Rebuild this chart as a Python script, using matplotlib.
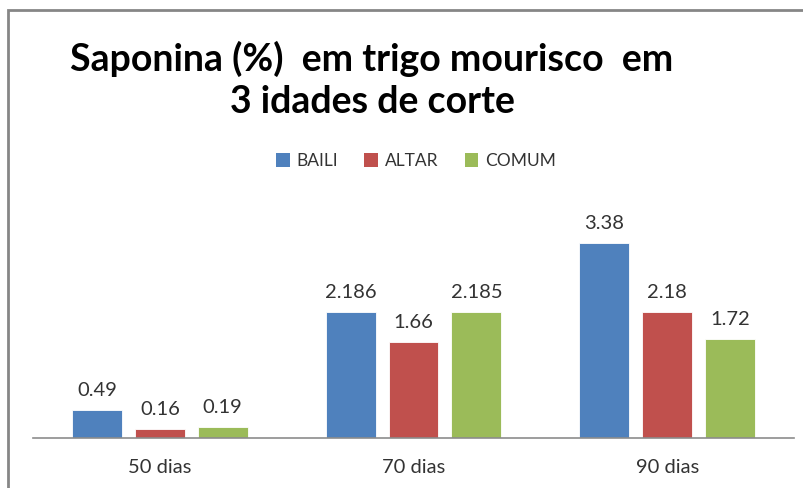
import numpy as np
import matplotlib.pyplot as plt
from matplotlib.patches import Rectangle, Patch

categories = ["50 dias", "70 dias", "90 dias"]
series = ["BAILI", "ALTAR", "COMUM"]
baili = [0.49, 2.186, 3.38]
altar = [0.16, 1.66, 2.18]
comum = [0.19, 2.185, 1.72]
labels = [["0.49", "2.186", "3.38"], ["0.16", "1.66", "2.18"], ["0.19", "2.185", "1.72"]]
colors = ["#4F81BD", "#C0504D", "#9BBB59"]

plt.rcParams["font.family"] = ["Lato", "DejaVu Sans"]

W, H = 804, 488
fig = plt.figure(figsize=(W / 100, H / 100), dpi=100)

# frame of the chart (bottom and right are cut off in the reference)
fig.patches.append(Rectangle((8 / W, -0.1), 1.2, 1.1 - 10 / H,
                             transform=fig.transFigure, fill=False,
                             edgecolor="#868686", linewidth=2.0))

ax = fig.add_axes([33 / W, (H - 438) / H, 761 / W, 231 / H])
x = np.arange(len(categories))
width = 0.197
offset = 0.248
for i, (vals, col) in enumerate(zip([baili, altar, comum], colors)):
    xs = x + (i - 1) * offset
    ax.bar(xs, vals, width=width, color=col, edgecolor="white", linewidth=0.6)
    for xx, v, lab in zip(xs, vals, labels[i]):
        ax.annotate(lab, (xx, v), xytext=(0, 8), textcoords="offset points",
                    ha="center", va="bottom", fontsize=14.5, color="#333333")

ax.set_xlim(-0.5, 2.5)
ax.set_ylim(0, 4)
ax.set_xticks(x)
ax.set_xticklabels(categories, fontsize=14.5, color="#333333")
ax.tick_params(axis="x", length=0, pad=15)
ax.set_yticks([])
for s in ["top", "right", "left"]:
    ax.spines[s].set_visible(False)
ax.spines["bottom"].set_color("#8c8c8c")
ax.spines["bottom"].set_linewidth(1.2)

fig.text(372 / W, 1 - 80 / H, "Saponina (%)  em trigo mourisco  em\n3 idades de corte",
         ha="center", va="center", multialignment="center",
         fontsize=27, fontweight="bold", color="black", linespacing=1.3)

handles = [Patch(facecolor=c, label=s) for c, s in zip(colors, series)]
fig.legend(handles=handles, loc="center", bbox_to_anchor=(416 / W, 1 - 161 / H),
           ncol=3, frameon=False, fontsize=12.5, handlelength=0.8, handleheight=0.8,
           handletextpad=0.4, columnspacing=1.5, labelcolor="#333333")

fig.savefig("out.png", dpi=100)
